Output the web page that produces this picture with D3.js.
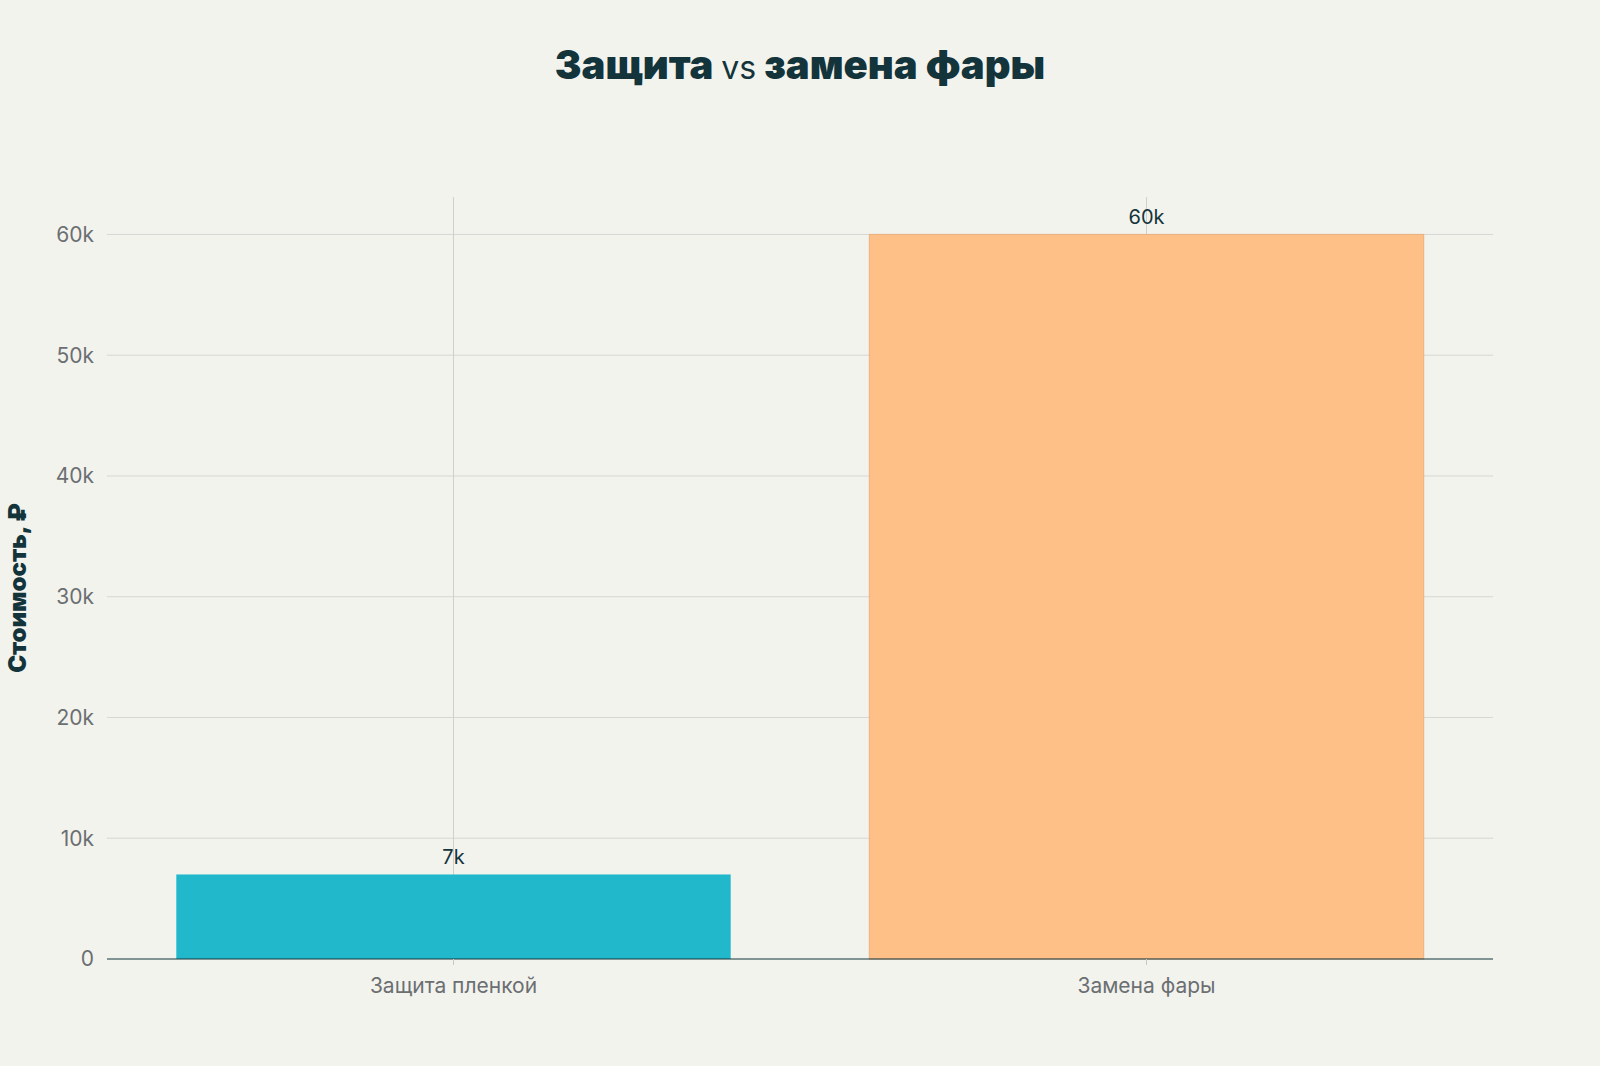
<!DOCTYPE html>
<html><head><meta charset="utf-8">
<script src="https://cdn.jsdelivr.net/npm/d3@7"></script>
<style>body{margin:0;background:#f3f3ee;}svg{display:block;font-family:Inter,"Noto Sans",sans-serif;}</style>
</head><body><svg id="c" width="1600" height="1066"></svg>
<script>
const categories = ["Защита пленкой", "Замена фары"];
const values = [7000, 60000];
const labels = ["7k", "60k"];
const colors = ["#22b8cc", "#ffc087"];
const yTicks = [0, 10000, 20000, 30000, 40000, 50000, 60000];

const svg = d3.select("#c");
const m = {l:107, r:1493, t:197, b:959};
const x = d3.scaleBand().domain(categories).range([m.l, m.r]).paddingInner(0.2).paddingOuter(0.1);
const y = d3.scaleLinear().domain([0, 63100]).range([m.b, m.t]);

svg.append("rect").attr("width",1600).attr("height",1066).attr("fill","#f3f3ee");

svg.selectAll(".hg").data(yTicks.slice(1)).join("line")
  .attr("x1",m.l).attr("x2",m.r).attr("y1",d=>y(d)).attr("y2",d=>y(d))
  .attr("stroke","#d6d6d2").attr("stroke-width",1);
svg.selectAll(".vg").data(categories).join("line")
  .attr("x1",d=>x(d)+x.bandwidth()/2).attr("x2",d=>x(d)+x.bandwidth()/2)
  .attr("y1",m.t).attr("y2",m.b).attr("stroke","#cfcfcb").attr("stroke-width",1);

svg.selectAll(".bar").data(categories).join("rect")
  .attr("x",d=>x(d)).attr("width",x.bandwidth())
  .attr("y",(d,i)=>y(values[i])).attr("height",(d,i)=>y(0)-y(values[i]))
  .attr("fill",(d,i)=>colors[i]).attr("stroke",(d,i)=>i==1?"#e8b07f":"none").attr("stroke-width",1);

svg.selectAll(".vl").data(categories).join("text")
  .attr("x",d=>x(d)+x.bandwidth()/2).attr("y",(d,i)=>y(values[i])-10)
  .attr("text-anchor","middle").attr("font-size",20).attr("fill","#13343b")
  .text((d,i)=>labels[i]);

svg.append("line").attr("x1",m.l).attr("x2",m.r).attr("y1",m.b).attr("y2",m.b).attr("stroke","#13343b");
svg.selectAll(".yt").data(yTicks).join("text")
  .attr("x",m.l-13).attr("y",d=>y(d)).attr("dy","0.35em").attr("text-anchor","end")
  .attr("font-size",21).attr("fill","#6b6f72").text(d=>d===0?"0":(d/1000)+"k");
svg.selectAll(".xt").data(categories).join("line")
  .attr("x1",d=>x(d)+x.bandwidth()/2).attr("x2",d=>x(d)+x.bandwidth()/2)
  .attr("y1",m.b).attr("y2",m.b+6).attr("stroke","#c8c8c4");
svg.selectAll(".xl").data(categories).join("text")
  .attr("x",d=>x(d)+x.bandwidth()/2).attr("y",m.b+34).attr("text-anchor","middle")
  .attr("font-size",21).attr("fill","#6b6f72").text(d=>d);

svg.append("text").attr("transform","translate(26,"+((m.t+m.b)/2+10)+") rotate(-90)")
  .attr("text-anchor","middle").attr("font-size",24).attr("font-weight",900).attr("fill","#13343b")
  .text("Стоимость, ₽");

const t = svg.append("text").attr("x",800).attr("y",79).attr("text-anchor","middle")
  .attr("font-size",40).attr("fill","#13343b");
t.append("tspan").attr("font-weight",900).text("Защита ");
t.append("tspan").attr("font-weight",400).attr("font-size",32).text("vs");
t.append("tspan").attr("font-weight",900).text(" замена фары");
</script></body></html>
